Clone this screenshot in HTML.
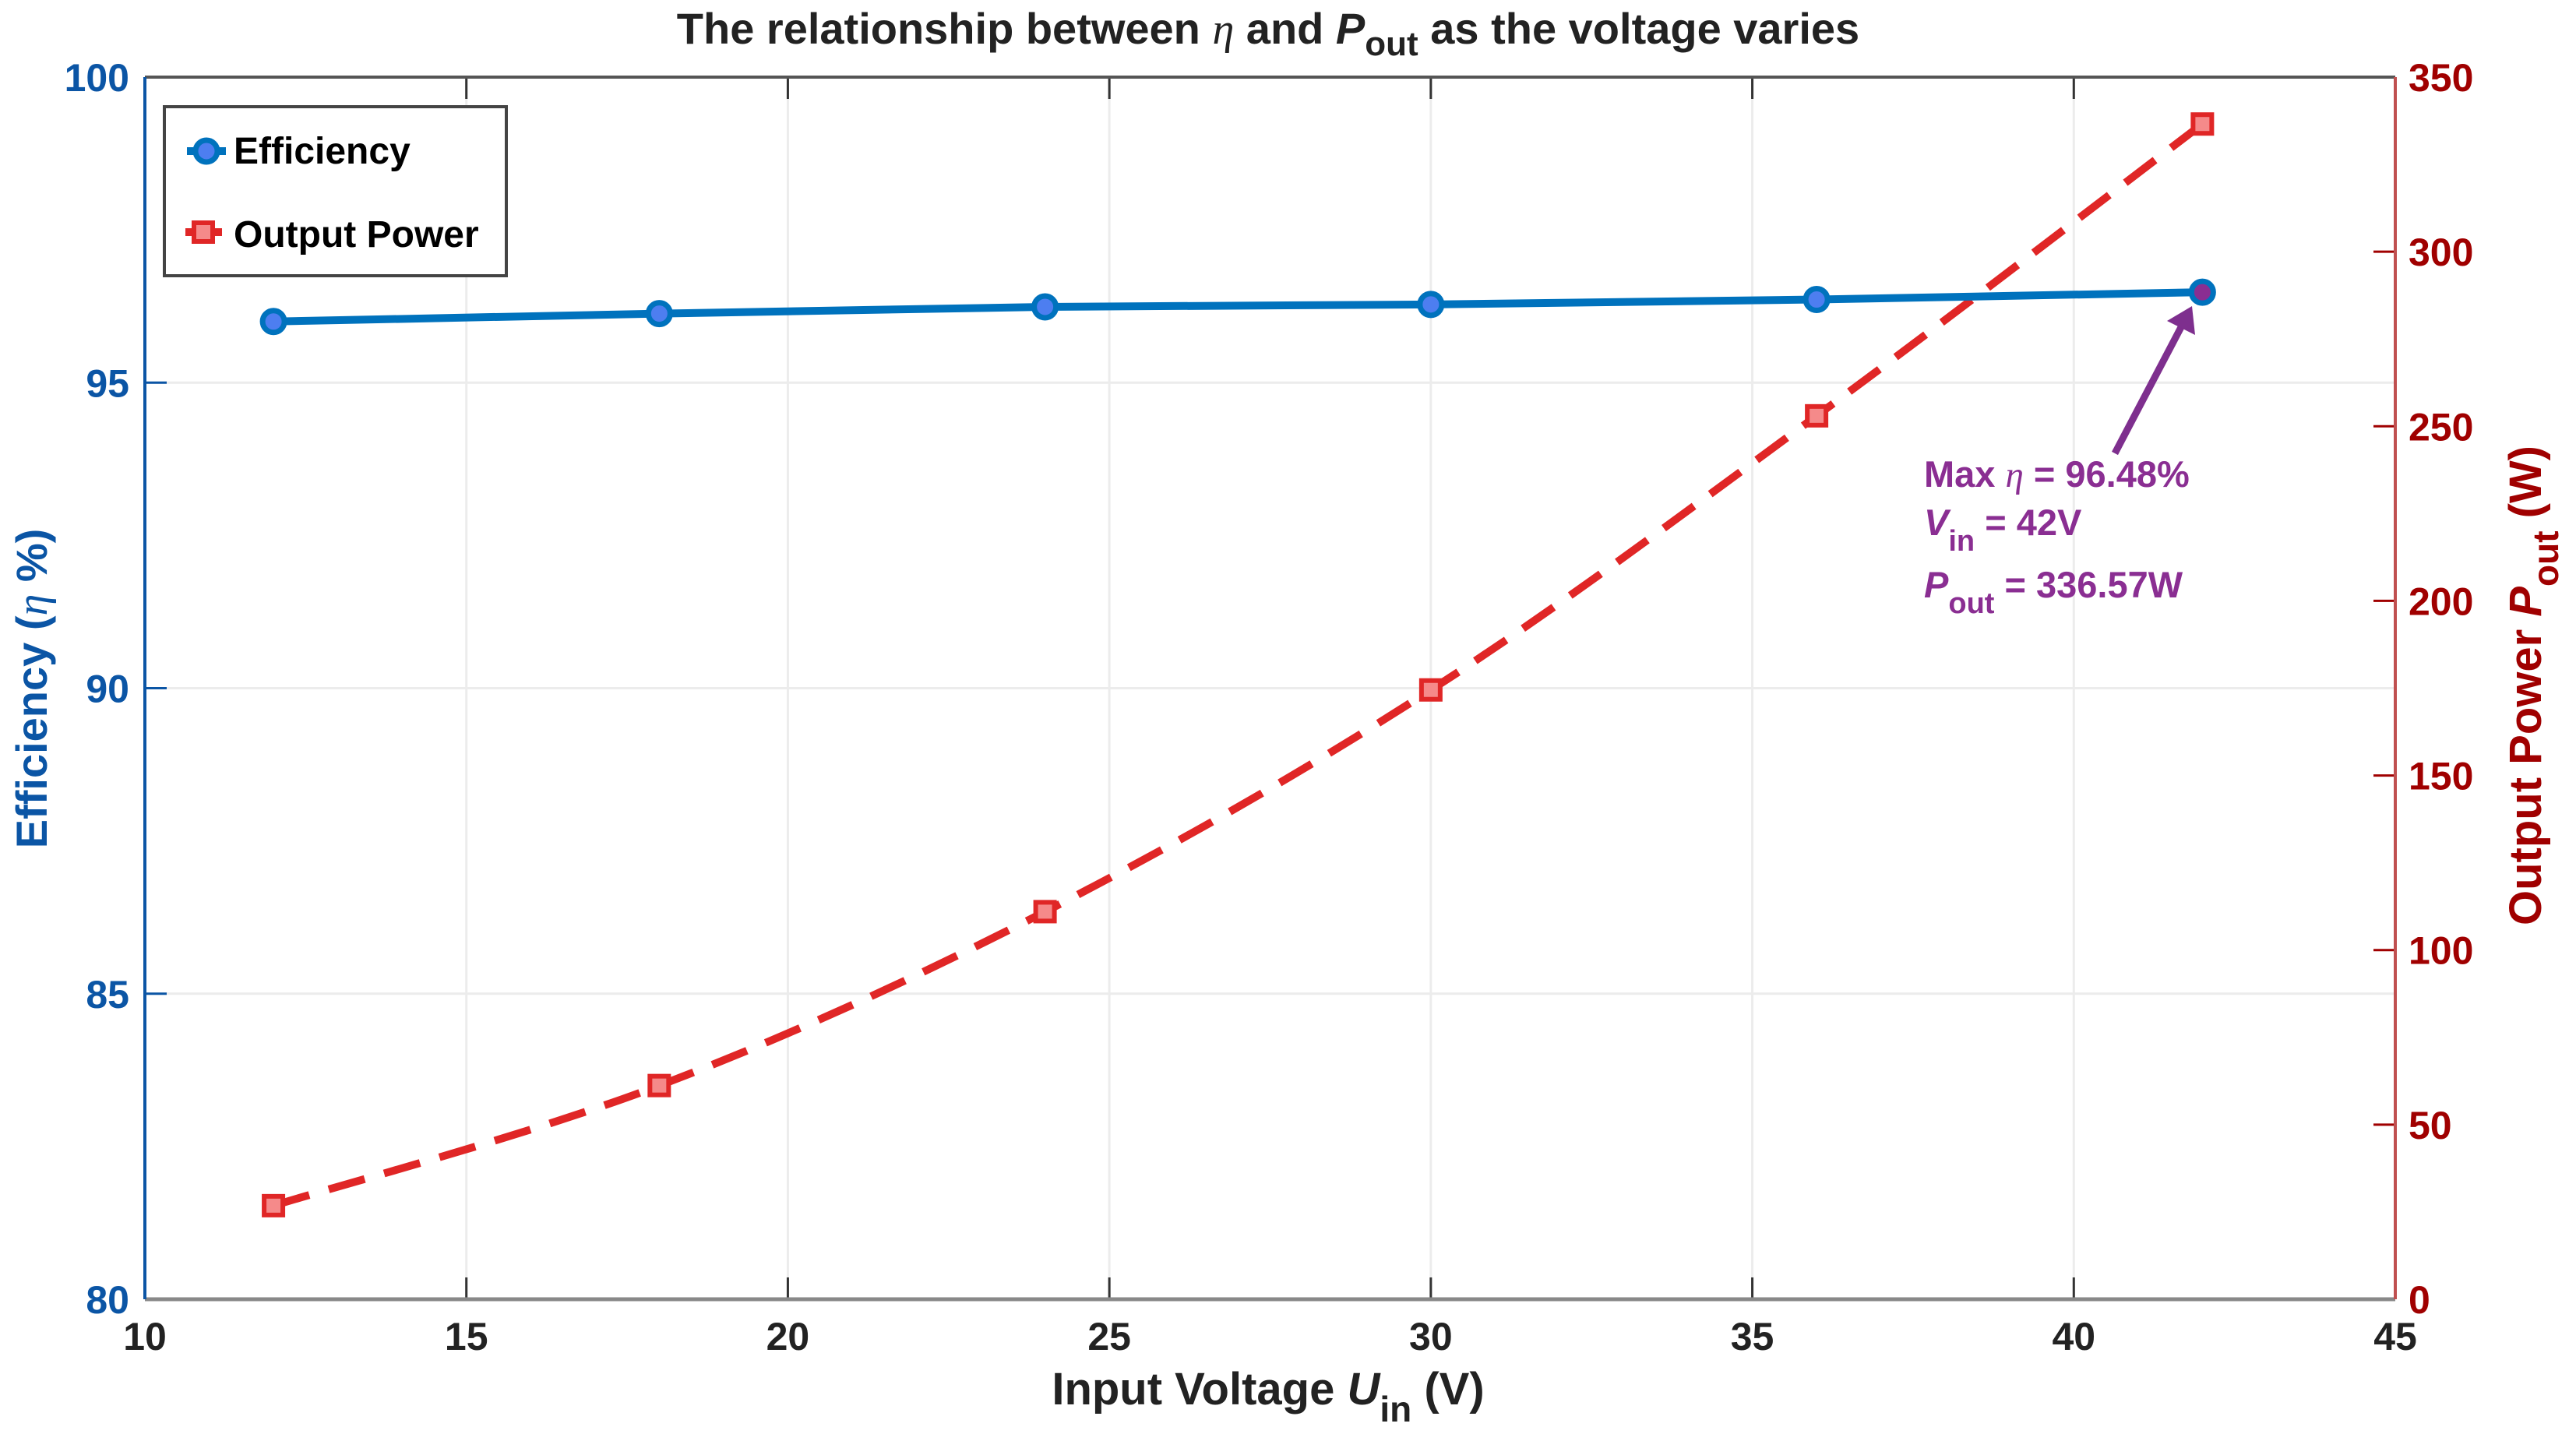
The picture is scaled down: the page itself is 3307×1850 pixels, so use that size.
<!DOCTYPE html>
<html><head><meta charset="utf-8"><style>
html,body{margin:0;padding:0;background:#fff}
svg{display:block;font-family:"Liberation Sans",Arial,sans-serif;font-weight:bold}
</style></head><body>
<svg id="chart" width="3307" height="1850" viewBox="0 0 3307 1850" xmlns="http://www.w3.org/2000/svg">
<rect width="3307" height="1850" fill="#fff"/>
<g id="grid"></g>
<g id="axes"></g>
<g id="series"></g>
<text x="1628" y="56" text-anchor="middle" font-size="56" fill="#222">The relationship between <tspan font-family="Liberation Serif" font-style="italic" font-weight="normal">η</tspan> and <tspan font-style="italic">P</tspan><tspan font-size="44" dy="15">out</tspan><tspan dy="-15"> as the voltage varies</tspan></text>
<text x="1628" y="1803" text-anchor="middle" font-size="58" fill="#222">Input Voltage  <tspan font-style="italic">U</tspan><tspan font-size="46" dy="22">in</tspan><tspan dy="-22"> (V)</tspan></text>
<text transform="translate(60,884) rotate(-90)" text-anchor="middle" font-size="56" fill="#0b55a5">Efficiency (<tspan font-family="Liberation Serif" font-style="italic" font-weight="normal">η</tspan> %)</text>
<text transform="translate(3262,880) rotate(-90)" text-anchor="middle" font-size="58" fill="#a00000">Output Power <tspan font-style="italic">P</tspan><tspan font-size="46" dy="22">out</tspan><tspan dy="-22"> (W)</tspan></text>
<g>
<rect x="211" y="137" width="439" height="217" fill="#fff" stroke="#444" stroke-width="4"/>
<g>
<line x1="240" y1="194" x2="290" y2="194" stroke="#0072BD" stroke-width="10"/>
<circle cx="265" cy="194" r="14" fill="#4d7ef0" stroke="#0072BD" stroke-width="7"/>
<text x="300" y="210" font-size="48" fill="#000">Efficiency</text>
</g>
<g>
<line x1="238" y1="298" x2="285" y2="298" stroke="#e02626" stroke-width="10"/>
<rect x="249" y="286" width="24" height="24" fill="#f58a8a" stroke="#e02626" stroke-width="6"/>
<text x="300" y="317" font-size="48" fill="#000">Output Power</text>
</g>
</g>
<g fill="#8a2e92">
<line x1="2715" y1="582" x2="2800" y2="420" stroke="#7e2f8e" stroke-width="9"/>
<polygon points="2814,393 2782,412 2818,430" fill="#7e2f8e"/>
<text x="2470" y="625" font-size="47">Max <tspan font-family="Liberation Serif" font-style="italic" font-weight="normal">η</tspan> = 96.48%</text>
<text x="2470" y="687" font-size="47"><tspan font-style="italic">V</tspan><tspan font-size="38" dy="20">in</tspan><tspan dy="-20"> = 42V</tspan></text>
<text x="2470" y="767" font-size="47"><tspan font-style="italic">P</tspan><tspan font-size="38" dy="20">out</tspan><tspan dy="-20"> = 336.57W</tspan></text>
</g>
</svg>
<script>
const voltages = [12, 18, 24, 30, 36, 42];
const efficiency = [96.0, 96.13, 96.24, 96.28, 96.36, 96.48];
const outputPower = [26.8, 61.2, 111, 174.5, 253, 336.57];
const xTicks = [10, 15, 20, 25, 30, 35, 40, 45];
const yLeftTicks = [80, 85, 90, 95, 100];
const yRightTicks = [0, 50, 100, 150, 200, 250, 300, 350];

const L = 186, R = 3075, T = 99, B = 1668;
const NS = 'http://www.w3.org/2000/svg';
function sx(v){ return L + (v - 10) / 35 * (R - L); }
function syL(v){ return B - (v - 80) / 20 * (B - T); }
function syR(v){ return B - v / 350 * (B - T); }
function mk(tag, attrs, parent){
  const e = document.createElementNS(NS, tag);
  for (const k in attrs) e.setAttribute(k, attrs[k]);
  parent.appendChild(e); return e;
}
const grid = document.getElementById('grid');
const axes = document.getElementById('axes');
const series = document.getElementById('series');

xTicks.forEach(t => {
  const x = sx(t);
  if (t > 10 && t < 45) {
    const g = mk('line', {x1:x, y1:T, x2:x, y2:B, stroke:'#ececec', 'stroke-width':3}, grid);
    
    
    mk('line', {x1:x, y1:B, x2:x, y2:B-28, stroke:'#333', 'stroke-width':3}, axes);
    mk('line', {x1:x, y1:T, x2:x, y2:T+28, stroke:'#333', 'stroke-width':3}, axes);
  }
  const lab = mk('text', {x:x, y:1733, 'text-anchor':'middle', 'font-size':50, fill:'#222'}, axes);
  lab.textContent = t;
  
  
});
yLeftTicks.forEach(t => {
  const y = syL(t);
  if (t > 80 && t < 100) {
    const g = mk('line', {x1:L, y1:y, x2:R, y2:y, stroke:'#ececec', 'stroke-width':3}, grid);
    
    
    mk('line', {x1:L, y1:y, x2:L+28, y2:y, stroke:'#0b55a5', 'stroke-width':3}, axes);
  }
  const lab = mk('text', {x:166, y:y+18, 'text-anchor':'end', 'font-size':50, fill:'#0b55a5'}, axes);
  lab.textContent = t;
  
  
});
yRightTicks.forEach(t => {
  const y = syR(t);
  if (t > 0 && t < 350) mk('line', {x1:R, y1:y, x2:R-28, y2:y, stroke:'#a00000', 'stroke-width':3}, axes);
  const lab = mk('text', {x:3092, y:y+18, 'font-size':50, fill:'#a00000'}, axes);
  lab.textContent = t;
  
  
});
mk('line', {x1:L, y1:T, x2:R, y2:T, stroke:'#555', 'stroke-width':4}, axes);
mk('line', {x1:L, y1:B, x2:R, y2:B, stroke:'#888', 'stroke-width':5}, axes);
mk('line', {x1:L, y1:T, x2:L, y2:B, stroke:'#0b55a5', 'stroke-width':4}, axes);
mk('line', {x1:R, y1:T, x2:R, y2:B, stroke:'#c05050', 'stroke-width':4}, axes);

const pp = voltages.map((v,i) => [sx(v), syR(outputPower[i])]);
let d = 'M' + pp[0][0] + ',' + pp[0][1];
for (let i = 0; i < pp.length - 1; i++) {
  const p0 = pp[Math.max(0,i-1)], p1 = pp[i], p2 = pp[i+1], p3 = pp[Math.min(pp.length-1,i+2)];
  const c1 = [p1[0] + (p2[0]-p0[0])/6, p1[1] + (p2[1]-p0[1])/6];
  const c2 = [p2[0] - (p3[0]-p1[0])/6, p2[1] - (p3[1]-p1[1])/6];
  d += ' C' + c1 + ' ' + c2 + ' ' + p2;
}
const pl = mk('path', {d:d, fill:'none', stroke:'#e02626', 'stroke-width':10, 'stroke-dasharray':'48 26'}, series);


pp.forEach(p => {
  const s = mk('rect', {x:p[0]-12, y:p[1]-12, width:24, height:24, fill:'#f58a8a', stroke:'#e02626', 'stroke-width':6}, series);
  
  
});

const ep = voltages.map((v,i) => [sx(v), syL(efficiency[i])]);
const el = mk('polyline', {points: ep.map(p => p.join(',')).join(' '), fill:'none', stroke:'#0072BD', 'stroke-width':10}, series);


ep.forEach((p,i) => {
  const c = mk('circle', {cx:p[0], cy:p[1], r:14, fill: i === ep.length-1 ? '#8a2e92' : '#4d7ef0', stroke:'#0072BD', 'stroke-width':7}, series);
  
  
});
</script>
</body></html>
